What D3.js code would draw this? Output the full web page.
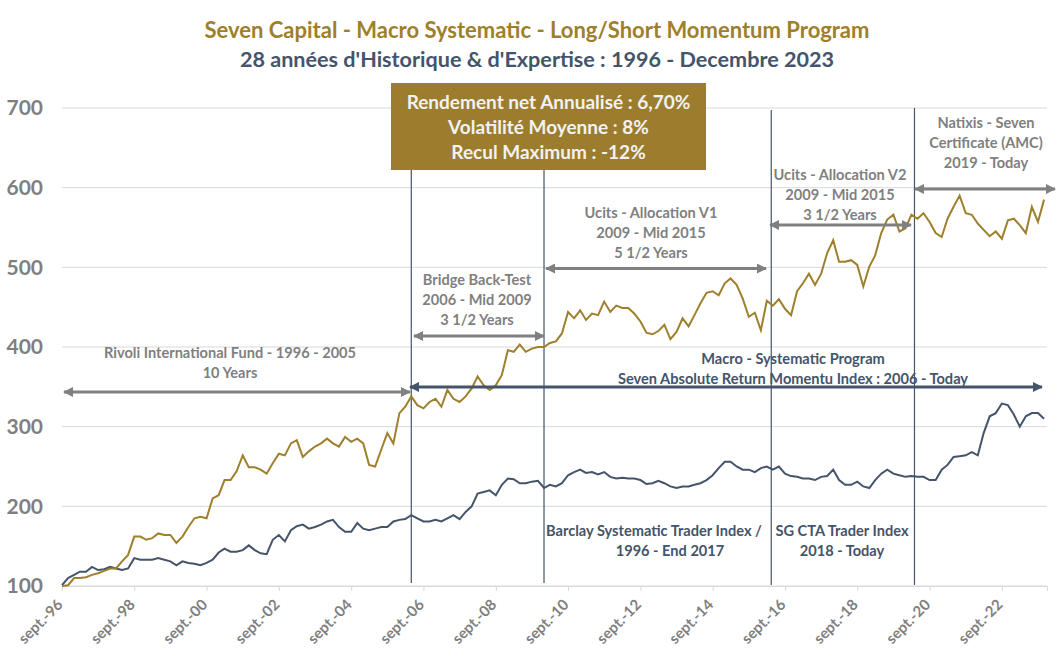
<!DOCTYPE html>
<html><head><meta charset="utf-8">
<script src="https://cdn.jsdelivr.net/npm/d3@7"></script>
<style>
body{margin:0;background:#fff;}
svg{display:block;font-family:Lato,"Open Sans",sans-serif;}
</style></head>
<body><svg id="c" width="1063" height="661"></svg>
<script>
// ---- data (bimonthly, starting Sept 1996) ----
const startDate = new Date(1996, 8, 1);
const endDate = new Date(2023, 11, 1);
const sevenSeries = [100,101,110,110,111,114,116,119,122,122,131,139,162,162,158,160,166,164,164,154,162,174,185,187,185,210,214,233,233,244,264,249,249,246,241,254,266,264,279,283,262,269,275,279,285,279,275,287,281,285,279,252,250,271,292,279,317,325,338,327,323,331,335,325,346,335,331,338,348,363,352,346,352,365,396,394,403,394,398,400,400,405,407,417,444,436,446,434,442,440,457,444,452,449,449,442,432,418,416,420,428,410,419,436,426,440,455,468,470,465,480,486,478,461,438,443,421,458,452,460,448,440,470,480,492,478,492,518,534,507,507,509,503,476,501,515,543,560,566,545,549,566,561,568,557,543,538,561,576,590,568,566,555,547,539,545,536,559,561,553,543,576,557,585];
const benchSeries = [101,110,114,118,118,124,120,121,124,122,120,122,135,133,133,133,135,133,131,126,131,129,128,126,129,133,142,147,143,143,145,151,145,141,140,158,164,156,170,175,177,172,174,177,181,183,174,168,168,179,172,170,172,174,174,181,183,184,189,185,181,181,183,181,185,189,184,193,200,216,218,220,214,227,235,234,229,229,231,232,223,227,225,229,239,243,246,242,243,240,243,237,235,236,235,235,233,228,229,232,229,225,223,225,225,227,229,233,239,248,256,256,250,246,246,243,248,250,246,250,241,238,237,235,235,233,237,238,246,233,227,227,231,225,223,233,241,246,241,239,237,238,237,237,233,233,246,252,262,263,264,268,264,292,313,317,329,327,315,300,313,317,317,310];
const yTicks = [100,200,300,400,500,600,700];
const xTickYears = [1996,1998,2000,2002,2004,2006,2008,2010,2012,2014,2016,2018,2020,2022];
const xTickLabels = ["sept.-96","sept.-98","sept.-00","sept.-02","sept.-04","sept.-06","sept.-08","sept.-10","sept.-12","sept.-14","sept.-16","sept.-18","sept.-20","sept.-22"];
const periodBreaks = [new Date(2006,4,1), new Date(2010,0,1), new Date(2016,3,15), new Date(2020,3,1)];
const titleLines = ["Seven Capital - Macro Systematic -  Long/Short Momentum Program","28 années d'Historique & d'Expertise : 1996 - Decembre 2023"];
const boxLines = ["Rendement net Annualisé : 6,70%","Volatilité Moyenne : 8%","Recul Maximum : -12%"];

const GOLD = "#9E7F2B", BLUE = "#44546A", GREY = "#7F7F7F", GRID = "#D9D9D9";

const svg = d3.select("#c");
const x = d3.scaleTime().domain([startDate, endDate]).range([62, 1047]);
const y = d3.scaleLinear().domain([100, 700]).range([586, 108]);

// grid
svg.append("g").selectAll("line").data(yTicks).join("line")
  .attr("x1", 62).attr("x2", 1047).attr("y1", d => y(d)).attr("y2", d => y(d))
  .attr("stroke", GRID).attr("stroke-width", 1);

// y axis labels
const yAxis = svg.append("g").attr("transform", "translate(43,0)")
  .call(d3.axisLeft(y).tickValues(yTicks).tickSize(0).tickPadding(0));
yAxis.select(".domain").remove();
yAxis.selectAll("text").attr("fill", GREY).style("font-size", "21px").style("font-weight", "bold")
  .style("font-family", "Lato,sans-serif");

// x axis (line + tick marks)
const tickDates = xTickYears.map(yr => new Date(yr, 8, 1));
const xAxis = svg.append("g").attr("transform", "translate(0,586)")
  .call(d3.axisBottom(x).tickValues(tickDates).tickSize(5).tickFormat(""));
xAxis.select(".domain").attr("stroke", GRID);
xAxis.selectAll(".tick line").attr("stroke", GRID);
// rotated tick labels
const lbl = svg.append("g").selectAll("g").data(tickDates).join("g")
  .attr("transform", d => `translate(${x(d) - 2},602)`);
lbl.append("text").attr("transform", "rotate(-45)")
  .attr("text-anchor", "end").attr("dy", "0.35em")
  .attr("fill", GREY).style("font-size", "15px").style("font-weight", "bold")
  .text((d, i) => xTickLabels[i]);

// period lines
const breakTop = [170, 170, 110, 108];
const breakBot = [583, 583, 585, 585];
svg.append("g").selectAll("line").data(periodBreaks).join("line")
  .attr("x1", d => x(d)).attr("x2", d => x(d))
  .attr("y1", (d, i) => breakTop[i]).attr("y2", (d, i) => breakBot[i])
  .attr("stroke", BLUE).attr("stroke-width", 1.2);

// series
const line = d3.line().x((d, i) => x(d3.timeMonth.offset(startDate, 2 * i))).y(d => y(d));
svg.append("path").datum(benchSeries).attr("d", line).attr("fill", "none").attr("stroke", BLUE).attr("stroke-width", 2);
svg.append("path").datum(sevenSeries).attr("d", line).attr("fill", "none").attr("stroke", GOLD).attr("stroke-width", 2);

// markers
const defs = svg.append("defs");
function marker(id, color) {
  defs.append("marker").attr("id", id).attr("viewBox", "0 0 10 10").attr("refX", 9).attr("refY", 5)
    .attr("markerUnits", "userSpaceOnUse").attr("markerWidth", 11).attr("markerHeight", 10)
    .attr("orient", "auto-start-reverse")
    .append("path").attr("d", "M0,0 L10,5 L0,10 z").attr("fill", color);
}
marker("ag", "#808080"); marker("ab", BLUE);

const arrows = [
  {x1: 64, x2: 410, y: 392, c: "#808080", m: "ag"},
  {x1: 414, x2: 544, y: 336, c: "#808080", m: "ag"},
  {x1: 546, x2: 766, y: 268.5, c: "#808080", m: "ag"},
  {x1: 770, x2: 911, y: 225, c: "#808080", m: "ag"},
  {x1: 915, x2: 1055, y: 189, c: "#808080", m: "ag"},
  {x1: 410, x2: 1042, y: 387, c: BLUE, m: "ab"}
];
svg.append("g").selectAll("line").data(arrows).join("line")
  .attr("x1", d => d.x1).attr("x2", d => d.x2).attr("y1", d => d.y).attr("y2", d => d.y)
  .attr("stroke", d => d.c).attr("stroke-width", 3)
  .attr("marker-start", d => `url(#${d.m})`).attr("marker-end", d => `url(#${d.m})`);

// annotation text
const notes = [
  {x: 230, y: [353, 373], t: ["Rivoli International Fund - 1996 - 2005", "10 Years"], c: GREY},
  {x: 477, y: [280, 300, 320], t: ["Bridge Back-Test", "2006 - Mid 2009", "3 1/2 Years"], c: GREY},
  {x: 651, y: [213, 233, 253], t: ["Ucits - Allocation V1", "2009 - Mid 2015", "5 1/2 Years"], c: GREY},
  {x: 840, y: [175, 195, 215], t: ["Ucits - Allocation V2", "2009 - Mid 2015", "3 1/2 Years"], c: GREY},
  {x: 986, y: [123, 143, 163], t: ["Natixis - Seven", "Certificate (AMC)", "2019 - Today"], c: GREY},
  {x: 793, y: [359, 379], t: ["Macro - Systematic Program", "Seven Absolute Return Momentu Index : 2006 - Today"], c: BLUE},
  {x: 654, y: [531], t: ["Barclay Systematic Trader Index /"], c: BLUE},
  {x: 670, y: [551], t: ["1996 - End 2017"], c: BLUE},
  {x: 842, y: [531, 551], t: ["SG CTA Trader Index", "2018 - Today"], c: BLUE}
];
notes.forEach(n => {
  n.t.forEach((s, i) => {
    svg.append("text").attr("x", n.x).attr("y", n.y[i]).attr("dy", "0.35em")
      .attr("text-anchor", "middle").attr("fill", n.c)
      .style("font-size", "14.6px").style("font-weight", "bold").text(s);
  });
});

// box
svg.append("rect").attr("x", 391).attr("y", 83).attr("width", 315).attr("height", 87).attr("fill", "#9C7D2E");
boxLines.forEach((s, i) => {
  svg.append("text").attr("x", 548.5).attr("y", 102 + i * 25).attr("dy", "0.35em")
    .attr("text-anchor", "middle").attr("fill", "#F2F2F2")
    .style("font-size", "19px").style("font-weight", "bold").text(s);
});

// titles
svg.append("text").attr("x", 537).attr("y", 30).attr("dy", "0.35em").attr("text-anchor", "middle")
  .attr("fill", GOLD).style("font-size", "22px").style("font-weight", "bold").text(titleLines[0]);
svg.append("text").attr("x", 537).attr("y", 59).attr("dy", "0.35em").attr("text-anchor", "middle")
  .attr("fill", BLUE).style("font-size", "21.6px").style("font-weight", "bold").text(titleLines[1]);
</script></body></html>
